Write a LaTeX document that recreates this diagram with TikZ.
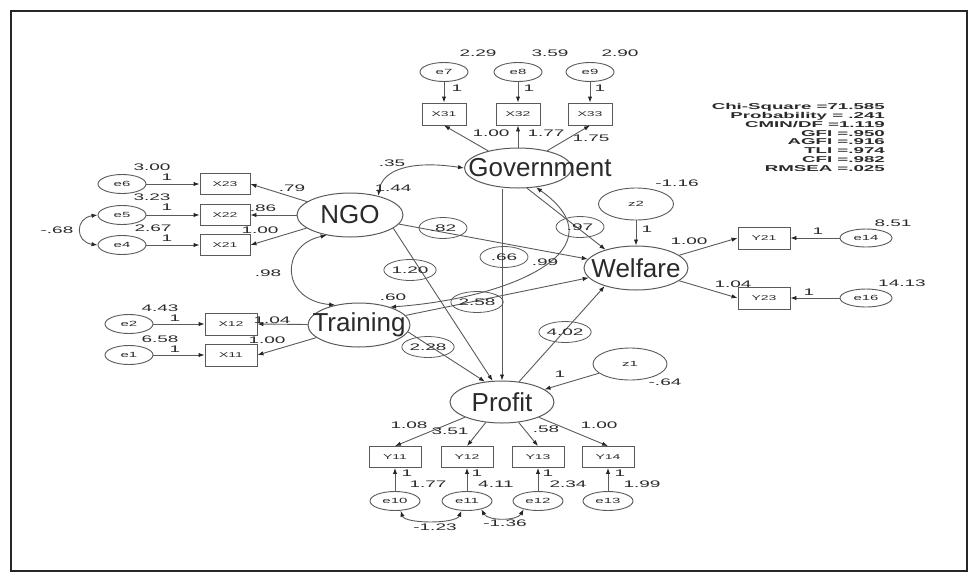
\documentclass[tikz,border=0pt]{standalone}
\usepackage{fontspec}
\setmainfont{Liberation Sans}
\newfontfamily\amos[FakeStretch=2.0]{Liberation Sans}
\newfontfamily\amosw[FakeStretch=2.2]{Liberation Sans}
\usetikzlibrary{arrows.meta,shapes.geometric}
\definecolor{ln}{HTML}{5A5A5A}
\definecolor{tx}{HTML}{2A2A2A}
\begin{document}
\begin{tikzpicture}[x=1pt,y=-1pt,
  lat/.style={ellipse, draw=ln, line width=1pt, inner sep=0pt},
  latname/.style={font=\fontsize{26}{26}\selectfont, text=tx, inner sep=0pt},
  err/.style={ellipse, draw=ln, line width=0.9pt, minimum width=48pt, minimum height=19pt, inner sep=0pt, font=\amos\fontsize{7.5}{8}\selectfont, text=tx},
  obs/.style={rectangle, draw=ln, line width=0.9pt, minimum width=50pt, minimum height=21pt, inner sep=0pt, font=\amos\fontsize{7}{8}\selectfont, text=tx},
  lbl/.style={font=\amos\fontsize{9.5}{10}\selectfont, text=tx, inner sep=0pt},
  olbl/.style={ellipse, draw=ln, line width=0.8pt, minimum width=48pt, minimum height=21pt, inner sep=0pt, font=\amos\fontsize{9.5}{10}\selectfont, text=tx},
  stats/.style={font=\amosw\bfseries\fontsize{8.5}{8.9}\selectfont, text=tx, align=right, inner sep=0pt},
  arr/.style={draw=ln, line width=0.9pt, -{Latex[length=6pt,width=4.4pt,color=black!85]}},
  dbl/.style={draw=ln, line width=0.9pt, {Latex[length=6pt,width=4.4pt,color=black!85]}-{Latex[length=6pt,width=4.4pt,color=black!85]}}
]
\useasboundingbox (0,0) rectangle (973,579);
\draw[black!85, line width=1.6pt] (11,11) rectangle (967,571);

% latent variables
\node[lat, minimum width=107pt, minimum height=40pt, label={[latname,xshift=22pt]center:Government}] (gov) at (518,168) {};
\node[lat, minimum width=106pt, minimum height=44pt, label={[latname]center:NGO}] (ngo) at (350,215) {};
\node[lat, minimum width=102pt, minimum height=44pt, label={[latname]center:Training}] (trn) at (359,325) {};
\node[lat, minimum width=104pt, minimum height=44pt, label={[latname]center:Welfare}] (wel) at (636,268) {};
\node[lat, minimum width=104pt, minimum height=42pt, label={[latname]center:Profit}] (pro) at (502,402) {};

% government indicators
\node[err] (e7) at (444,72) {e7};
\node[err] (e8) at (518,72) {e8};
\node[err] (e9) at (590,72) {e9};
\node[obs, minimum width=44pt, minimum height=22pt] (x31) at (444,114) {X31};
\node[obs, minimum width=44pt, minimum height=22pt] (x32) at (518,114) {X32};
\node[obs, minimum width=44pt, minimum height=22pt] (x33) at (590,114) {X33};

% NGO indicators
\node[err] (e6) at (122,184) {e6};
\node[err] (e5) at (122,215) {e5};
\node[err] (e4) at (122,245) {e4};
\node[obs] (x23) at (225,184) {X23};
\node[obs] (x22) at (225,215) {X22};
\node[obs] (x21) at (225,245) {X21};

% Training indicators
\node[err] (e2) at (129,324) {e2};
\node[err] (e1) at (129,355) {e1};
\node[obs, minimum width=52pt, minimum height=22pt] (x12) at (231,324) {X12};
\node[obs, minimum width=52pt, minimum height=22pt] (x11) at (231,355) {X11};

% Welfare
\node[err, minimum width=75pt, minimum height=32pt] (z2) at (636,204) {z2};
\node[obs, minimum width=52pt, minimum height=22pt] (y21) at (764,238) {Y21};
\node[obs, minimum width=52pt, minimum height=22pt] (y23) at (764,298) {Y23};
\node[err, minimum width=52pt, minimum height=18pt] (e14) at (866,238) {e14};
\node[err, minimum width=52pt, minimum height=18pt] (e16) at (866,298) {e16};

% Profit
\node[err, minimum width=74pt, minimum height=32pt] (z1) at (630,364) {z1};
\node[obs, minimum width=52pt] (y11) at (395,457) {Y11};
\node[obs, minimum width=52pt] (y12) at (467,457) {Y12};
\node[obs, minimum width=52pt] (y13) at (538,457) {Y13};
\node[obs, minimum width=52pt] (y14) at (608,457) {Y14};
\node[err, minimum width=50pt] (e10) at (395,501) {e10};
\node[err, minimum width=50pt] (e11) at (467,501) {e11};
\node[err, minimum width=50pt] (e12) at (538,501) {e12};
\node[err, minimum width=50pt] (e13) at (608,501) {e13};

% measurement arrows
\draw[arr] (e7) -- (x31);
\draw[arr] (e8) -- (x32);
\draw[arr] (e9) -- (x33);
\draw[arr] (gov) -- (x31.south);
\draw[arr] (gov) -- (x32);
\draw[arr] (gov) -- (x33.south);
\draw[arr] (e6) -- (x23);
\draw[arr] (e5) -- (x22);
\draw[arr] (e4) -- (x21);
\draw[arr] (ngo) -- (x23.east);
\draw[arr] (ngo) -- (x22.east);
\draw[arr] (ngo) -- (x21.east);
\draw[arr] (e2) -- (x12);
\draw[arr] (e1) -- (x11);
\draw[arr] (trn) -- (x12.east);
\draw[arr] (trn) -- (x11.east);
\draw[arr] (z2) -- (wel);
\draw[arr] (wel) -- (y21.west);
\draw[arr] (wel) -- (y23.west);
\draw[arr] (e14) -- (y21);
\draw[arr] (e16) -- (y23);
\draw[arr] (z1) -- (pro);
\draw[arr] (pro) -- (y11.north);
\draw[arr] (pro) -- (y12.north);
\draw[arr] (pro) -- (y13.north);
\draw[arr] (pro) -- (y14.north);
\draw[arr] (e10) -- (y11);
\draw[arr] (e11) -- (y12);
\draw[arr] (e12) -- (y13);
\draw[arr] (e13) -- (y14);

% structural paths
\draw[arr] (ngo) -- (wel);
\draw[arr] (gov.294) -- (wel.149);
\draw[arr] (trn) -- (wel);
\draw[arr] (ngo.343) -- (pro.114);
\draw[arr] (trn.352) -- (pro.130);
\draw[arr] (pro.north |- gov.south) -- (pro.north);
\draw[arr] (pro.50) -- (wel.210);

% covariances
\draw[dbl] (ngo.221) .. controls (280,245) and (280,300) .. (trn.140);
\draw[dbl] (ngo.34) .. controls (382,170) and (410,160) .. (gov.west);
\draw[dbl] (trn.30) .. controls (515,298) and (622,248) .. (gov.313);
\draw[dbl] (e5.west) .. controls (75,218) and (75,242) .. (e4.west);
\draw[dbl] (e10.-60) .. controls (405,524) and (456,524) .. (e11.-120);
\draw[dbl] (e11.-30) .. controls (488,521) and (517,521) .. (e12.-150);

% path coefficient ovals
\node[olbl] (c82) at (443,228) {.82};
\node[olbl] (c120) at (410,270) {1.20};
\node[olbl] (c66) at (504,257) {.66};
\node[olbl] (c97) at (580,227) {.97};
\node[olbl] (c258) at (477,302) {2.58};
\node[olbl] (c402) at (565,332) {4.02};
\node[olbl] (c228) at (428,347) {2.28};

% labels
\foreach \x/\y/\t [count=\i] in {
  478/53/2.29, 550/53/3.59, 620/53/2.90,
  457/88/1, 529/88/1, 600/88/1,
  491/133/1.00, 546/133/1.77, 591/138/1.75,
  152/167/3.00, 167/177/1, 152/197/3.23, 167/207/1, 153/228/2.67, 167/238/1, 57/230/-.68,
  292/188/.79, 263/208/.86, 260/230/1.00,
  160/308/4.43, 175/318/1, 160/339/6.58, 175/349/1, 272/320/1.04, 267/340/1.00,
  268/273/.98, 393/297/.60, 393/188/1.44, 392/163/.35, 545/262/.99,
  677/183/-1.16, 647/229/1, 665/382/-.64, 560/374/1,
  689/241/1.00, 733/284/1.04, 893/223/8.51, 902/283/14.13, 818/231/1, 809/292/1,
  409/425/1.08, 450/431/3.51, 546/429/.58, 599/425/1.00,
  407/473/1, 477/473/1, 548/473/1, 620/473/1,
  428/484/1.77, 496/484/4.11, 568/484/2.34, 642/484/1.99,
  435/527/-1.23, 505/523/-1.36}
  \node[lbl] (lab\i) at (\x,\y) {\t};

% fit statistics
\node[stats, anchor=north east] (fit) at (885,103) {Chi-Square =71.585\\Probability = .241\\CMIN/DF =1.119\\GFI =.950\\AGFI =.916\\TLI =.974\\CFI =.982\\RMSEA =.025};
\end{tikzpicture}
\end{document}
